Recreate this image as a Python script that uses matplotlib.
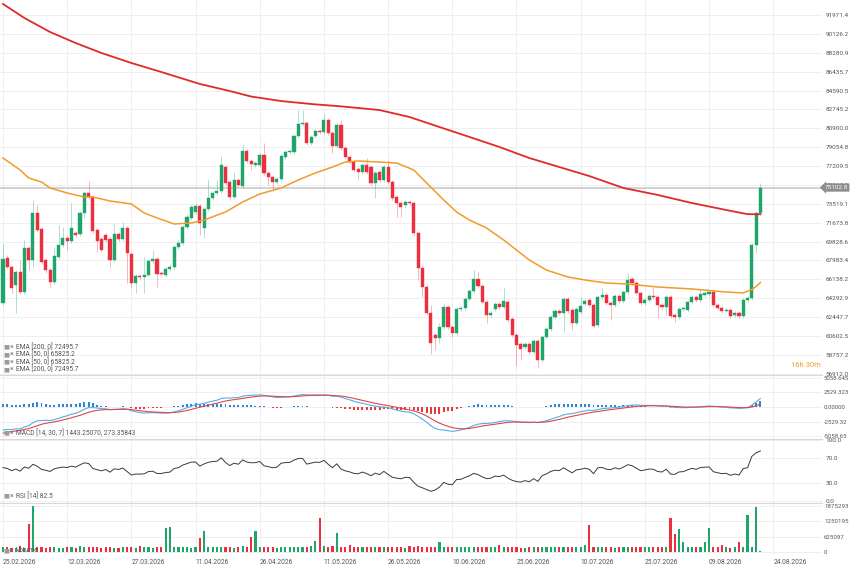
import numpy as np
import pandas as pd
import matplotlib
matplotlib.use('Agg')
import matplotlib.pyplot as plt

plt.rcParams['font.family'] = ['Roboto', 'DejaVu Sans']

start_date = '2026-02-25'

opens = [63820, 68220, 67340, 65580, 66850, 64890, 69190, 68020, 72620, 71050,
         68020, 67040, 65870, 68310, 69490, 70170, 69880, 70660, 70560, 72620,
         74570, 74180, 70950, 70070, 70470, 70070, 68020, 70560, 70070, 71150,
         68610, 65770, 66460, 66360, 66550, 67920, 68120, 66750, 66550, 67140,
         67340, 69290, 69680, 71250, 72130, 72710, 73300, 71150, 73010, 74080,
         74570, 74770, 77110, 75650, 74180, 75840, 75260, 78680, 77700, 77310,
         77310, 78290, 76530, 76140, 75650, 75940, 78090, 78580, 78580, 80140,
         81320, 81410, 79460, 80140, 80630, 80530, 81710, 80440, 79170, 81220,
         78970, 78090, 77600, 76920, 76620, 77310, 77110, 75550, 76620, 75840,
         77110, 75650, 74180, 73590, 73400, 73690, 73590, 70660, 67240, 65380,
         62840, 60690, 60400, 61470, 63430, 61470, 60880, 63230, 63330, 64210,
         64990, 66160, 65480, 63910, 62640, 63230, 63720, 63430, 63910, 62250,
         60690, 59810, 59520, 59810, 59030, 60100, 58240, 60490, 61280, 62450,
         63040, 62840, 64210, 63130, 61860, 62940, 63720, 64110, 63620, 61670,
         64400, 64600, 63820, 63620, 64500, 64010, 64890, 66160, 65770, 64800,
         63820, 64110, 64500, 64400, 63620, 63430, 64400, 62640, 62450, 63230,
         63130, 63910, 64400, 64110, 64600, 64700, 64890, 63620, 63330, 63040,
         63130, 62640, 62840, 62550, 64110, 64310, 69490, 72620]

highs = [69680, 68510, 67530, 67040, 68020, 69980, 69390, 73890, 73400, 71250,
         68220, 67240, 69290, 71440, 71250, 70370, 73590, 70860, 72810, 74770,
         75740, 74380, 71150, 70270, 70660, 70270, 71540, 70760, 71740, 71340,
         68800, 66650, 66650, 68310, 68120, 69000, 68310, 66950, 67340, 67630,
         69490, 69980, 71440, 72520, 73400, 73590, 73500, 73200, 75940, 74770,
         75840, 78190, 77310, 75840, 76620, 76040, 79360, 78870, 77900, 77700,
         78480, 79460, 76720, 76330, 76140, 78380, 78770, 78870, 80340, 82680,
         82680, 81610, 80240, 80830, 80830, 82290, 81900, 80630, 81410, 81710,
         79170, 78290, 77800, 77110, 77500, 77990, 77310, 76720, 76820, 77310,
         77800, 75840, 74380, 73790, 73890, 73890, 73790, 70860, 67430, 65580,
         63620, 60880, 61860, 63820, 63620, 61670, 63430, 63520, 64400, 65190,
         67040, 66850, 65680, 64110, 63040, 63910, 63910, 65280, 64110, 62450,
         60880, 60000, 60000, 60000, 60300, 60300, 60690, 61470, 62640, 63230,
         63230, 64400, 64400, 63330, 63430, 64400, 64210, 64310, 63820, 64600,
         65280, 64800, 64010, 64700, 64700, 65090, 66750, 66360, 65970, 64990,
         64310, 64700, 65380, 64600, 63820, 64600, 64600, 62840, 63430, 63520,
         64110, 64600, 64600, 65190, 64990, 65090, 65090, 63820, 63520, 63330,
         63330, 63040, 63040, 64310, 64500, 69680, 72810, 75550]

lows = [63620, 67140, 64800, 62840, 64700, 64700, 67040, 67240, 70760, 67630,
        66750, 65380, 65680, 68120, 69290, 69000, 69680, 70270, 70370, 72130,
        73980, 70660, 68800, 68800, 69780, 67240, 67830, 69880, 69880, 65770,
        65280, 64800, 66160, 64800, 66360, 67730, 65380, 66460, 66360, 66950,
        67140, 69100, 69490, 71050, 71930, 72520, 70470, 70270, 72810, 73890,
        74380, 74570, 75350, 73980, 73980, 75160, 75060, 77500, 76820, 77110,
        77110, 76330, 75350, 74770, 75450, 75740, 77900, 78380, 78380, 79950,
        81120, 79260, 79260, 79950, 80340, 80340, 80240, 78480, 78970, 78770,
        77900, 77410, 76620, 75840, 76430, 76430, 75350, 74080, 75650, 75650,
        75450, 73890, 72230, 72230, 73100, 73400, 70470, 66070, 64400, 62640,
        58830, 59220, 59910, 61280, 61280, 60490, 60690, 63040, 63130, 64010,
        64800, 65280, 63720, 61860, 62450, 63040, 63230, 63230, 61960, 60490,
        57660, 58240, 59320, 58830, 58830, 57460, 58050, 60300, 61080, 62250,
        62640, 60980, 62840, 61180, 61670, 62740, 63520, 63430, 61370, 61470,
        64210, 63620, 62160, 63430, 63820, 63820, 64700, 65580, 64600, 63620,
        63620, 63910, 64210, 62350, 63230, 62640, 62350, 61960, 62250, 63040,
        62940, 63720, 63910, 63910, 64400, 64500, 63430, 63130, 62840, 62940,
        62350, 62450, 62350, 62350, 63910, 64110, 68710, 72420]

closes = [68120, 67340, 65280, 66850, 64890, 69190, 68020, 72620, 70950, 67830,
          67040, 65870, 68410, 69490, 70170, 69880, 71150, 70470, 72620, 74570,
          74180, 70860, 69880, 69000, 69980, 68020, 70560, 70070, 71150, 68710,
          65770, 66460, 66360, 66550, 67920, 68120, 66650, 66650, 67140, 67340,
          69290, 69680, 71250, 72230, 73200, 73300, 71640, 73010, 74080, 74570,
          74770, 77310, 75550, 74180, 75840, 75350, 78680, 77700, 77410, 77500,
          78290, 76530, 76140, 75650, 75940, 78190, 78580, 78680, 80140, 81320,
          81410, 79460, 80050, 80630, 80530, 81710, 80440, 79170, 81220, 78970,
          78090, 77600, 76820, 76620, 77310, 76620, 75550, 76530, 75840, 77110,
          75650, 74080, 73590, 73200, 73690, 73590, 70660, 67240, 65380, 62840,
          59910, 60400, 61470, 63430, 61470, 60880, 63230, 63330, 64210, 64990,
          66160, 65480, 63910, 62640, 62840, 63720, 63430, 64010, 62160, 60690,
          59710, 59320, 59810, 59030, 60100, 58240, 60490, 61280, 62450, 63040,
          62840, 64210, 63040, 61860, 63230, 63520, 64010, 63620, 61570, 64400,
          64600, 63820, 63620, 64500, 64010, 64890, 66070, 65770, 64800, 63820,
          64110, 64500, 64400, 63620, 63430, 64400, 62550, 62450, 63230, 63330,
          63910, 64400, 64110, 64700, 64800, 64890, 63620, 63330, 63040, 63130,
          62550, 62840, 62550, 64110, 64310, 69490, 72620, 75102.8]

volumes = [200000, 210000, 180000, 170000, 250000, 180000, 1140000, 1860000, 190000, 200000,
           180000, 190000, 200000, 180000, 170000, 190000, 200000, 160000, 260000, 220000,
           200000, 210000, 190000, 180000, 200000, 190000, 180000, 170000, 200000, 190000,
           220000, 180000, 260000, 190000, 200000, 180000, 190000, 200000, 980000, 1030000,
           200000, 190000, 200000, 190000, 180000, 190000, 570000, 845000, 200000, 190000,
           200000, 210000, 190000, 200000, 180000, 190000, 230000, 200000, 625000, 860000,
           200000, 190000, 200000, 190000, 180000, 200000, 190000, 200000, 190000, 210000,
           200000, 190000, 240000, 450000, 1390000, 240000, 200000, 240000, 780000, 200000,
           190000, 300000, 200000, 210000, 200000, 190000, 200000, 210000, 200000, 190000,
           200000, 190000, 200000, 190000, 180000, 260000, 220000, 230000, 200000, 190000,
           200000, 190000, 420000, 200000, 190000, 200000, 200000, 190000, 200000, 210000,
           200000, 190000, 200000, 210000, 190000, 200000, 290000, 220000, 200000, 190000,
           200000, 180000, 160000, 190000, 200000, 210000, 200000, 190000, 200000, 210000,
           190000, 200000, 210000, 200000, 190000, 200000, 300000, 1100000, 220000, 210000,
           200000, 210000, 190000, 170000, 200000, 210000, 200000, 190000, 200000, 210000,
           200000, 190000, 200000, 210000, 190000, 200000, 1370000, 740000, 940000, 420000,
           210000, 200000, 210000, 200000, 420000, 980000, 200000, 190000, 280000, 200000,
           180000, 190000, 420000, 200000, 1510000, 200000, 1830000, 25000]

# EMA lines (candle index, price)
ema50_idx = [0, 4, 6, 9, 11, 15, 19, 21, 25, 30, 33, 36, 40, 44, 47, 52, 56, 60, 65, 69,
             73, 77, 80, 83, 88, 92, 96, 99, 103, 106, 109, 113, 117, 123, 127, 132, 136,
             141, 146, 153, 161, 169, 173, 175, 176, 177]
ema50_val = [77990, 76820, 76040, 75650, 75060, 74570, 74180, 74180, 73790, 73500, 72620,
             72130, 71540, 71640, 71930, 72710, 73690, 74470, 75060, 75840, 76530, 77110,
             77600, 77700, 77600, 77500, 76820, 75550, 73890, 72710, 71930, 71150, 69980,
             68020, 67040, 66360, 66070, 65770, 65670, 65380, 65190, 64890, 64800, 65140,
             65430, 65825.2]
ema200_idx = [0, 5, 11, 17, 23, 30, 37, 46, 53, 58, 65, 72, 79, 88, 95, 102, 109, 116,
              123, 130, 137, 145, 153, 161, 169, 174, 177]
ema200_val = [93050, 91680, 90310, 89230, 88260, 87280, 86400, 85230, 84540, 84000, 83560,
              83270, 83040, 82680, 82000, 81020, 80050, 79070, 77990, 77110, 76230, 75060,
              74380, 73590, 72910, 72500, 72495.7]

macd_fast_start = 69550.0
macd_slow_start = 73500.0
macd_signal_start = -4500.0
rsi_gain_start = 1000.0
rsi_loss_start = 1100.0

price_ticks = [56912.0, 58757.2, 60602.5, 62447.7, 64292.9, 66138.2, 67983.4, 69828.6,
               71673.8, 73519.1, 75364.3, 77209.5, 79054.8, 80900.0, 82745.2, 84590.5,
               86435.7, 88280.9, 90126.2, 91971.4]
macd_ticks = [5058.645, 2529.323, 0.0, -2529.32, -5058.65]
macd_tick_labels = ['5058.645', '2529.323', '0.00000', '-2529.32', '-5058.65']
rsi_ticks = [100.0, 70.0, 30.0, 0.0]
vol_ticks = [1875293, 1250195, 625097, 0]

legend_lines = ['EMA [200, 0] 72495.7', 'EMA [50, 0] 65825.2',
                'EMA [50, 0] 65825.2', 'EMA [200, 0] 72495.7']
macd_legend = 'MACD [14, 30, 7] 1443.25070, 273.35843'
rsi_legend = 'RSI [14] 82.5'
vol_legend = 'Volume'
countdown = '16h 30m'

# ------------------------------------------------------------------
o = np.array(opens, float)
h = np.array(highs, float)
l = np.array(lows, float)
c = np.array(closes, float)
v = np.array(volumes, float)
n = len(c)
x = np.arange(n)


def ema(vals, period, start):
    a = 2.0 / (period + 1)
    out = np.empty(len(vals))
    out[0] = start
    for i in range(1, len(vals)):
        out[i] = out[i - 1] + a * (vals[i] - out[i - 1])
    return out


fast = ema(c, 14, macd_fast_start)
slow = ema(c, 30, macd_slow_start)
macd = fast - slow
signal = ema(macd, 7, macd_signal_start)
hist = macd - signal

# Wilder RSI
chg = np.diff(np.concatenate([[o[0]], c]))
ag, al = rsi_gain_start, rsi_loss_start
rsi = np.empty(n)
for i in range(n):
    g = max(chg[i], 0)
    lo = max(-chg[i], 0)
    ag = (ag * 13 + g) / 14
    al = (al * 13 + lo) / 14
    rsi[i] = 100 - 100 / (1 + ag / al)

GREEN = '#1fa56a'
RED = '#ec2f3f'
up = c >= o
cols = np.where(up, GREEN, RED)

W, H = 853, 567
fig = plt.figure(figsize=(W / 100, H / 100), dpi=100)
RIGHT = 822


def add_axes(top, bottom):
    return fig.add_axes([0, 1 - bottom / H, RIGHT / W, (bottom - top) / H])


ax = add_axes(0, 375)
axm = add_axes(375, 439)
axr = add_axes(439, 503)
axv = add_axes(503, 555)

xt = list(range(0, 181, 15))
dates = pd.date_range(start_date, periods=181, freq='D')
xlabels = [dates[k].strftime('%d.%m.%Y') for k in xt]

for a in (ax, axm, axr, axv):
    a.set_xlim(-0.7, 191.4)
    a.set_xticks(xt)
    a.grid(True, color='#efefef', lw=0.7)
    a.set_axisbelow(True)
    a.yaxis.tick_right()
    a.tick_params(axis='both', length=0, labelsize=4.6, labelcolor='#555555', pad=2.5)
    for s in a.spines.values():
        s.set_visible(False)
    a.tick_params(axis='x', labelbottom=False)
for a in (axm, axr, axv):
    a.spines['top'].set_visible(True)
    a.spines['top'].set_color('#d8d8d8')
    a.spines['top'].set_linewidth(0.8)
axm.tick_params(axis='y', labelsize=4.3, pad=1.2)
axv.tick_params(axis='y', labelsize=4.4, pad=1.5)

# main price panel
ax.set_ylim(56778, 93438)
ax.set_yticks(price_ticks)
ax.set_yticklabels([f'{t:.1f}' for t in price_ticks])
ax.vlines(x, l, h, colors=cols, lw=0.7, alpha=0.35, zorder=2)
ax.bar(x, c - o, bottom=o, width=0.72, color=cols, edgecolor=cols, lw=0.3, zorder=3)
ax.axhline(c[-1], color='#cfcfcf', lw=1.3, zorder=1)
ax.plot(ema200_idx, ema200_val, color='#e02a2a', lw=1.3, zorder=4)
ax.plot(ema50_idx, ema50_val, color='#f39a2b', lw=1.1, zorder=4)
ax.text(1.003, c[-1], f'{c[-1]:.1f}', transform=ax.get_yaxis_transform(), va='center', ha='left',
        color='white', fontsize=4.6, zorder=6,
        bbox=dict(boxstyle='larrow,pad=0.25', fc='#8c8c8c', ec='none'))
ax.text(0.999, 0.027, countdown, transform=ax.transAxes, ha='right', va='center',
        color='#f39a2b', fontsize=5.5)

# MACD panel
axm.set_ylim(-5490, 5490)
axm.set_yticks(macd_ticks)
axm.set_yticklabels(macd_tick_labels)
axm.bar(x, hist, width=0.45, color=np.where(hist >= 0, '#2a86d8', '#e43a3a'), zorder=2)
axm.plot(x, macd, color='#55aee8', lw=0.8, zorder=3)
axm.plot(x, signal, color='#e04646', lw=0.8, zorder=3)

# RSI panel
axr.set_ylim(-3.3, 101.6)
axr.set_yticks(rsi_ticks)
axr.set_yticklabels([f'{t:.1f}' for t in rsi_ticks])
axr.plot(x, rsi, color='#3a3a3a', lw=0.7)

# Volume panel
axv.set_ylim(-122000, 1997600)
axv.set_yticks(vol_ticks)
axv.set_yticklabels([str(t) for t in vol_ticks])
axv.bar(x, v, width=0.5, color=cols, zorder=2)
axv.tick_params(axis='x', labelbottom=True, pad=3, labelsize=4.8)
axv.set_xticklabels(xlabels, ha='left')

# legends


def legend_text(py, s):
    fig.text(3 / W, 1 - py / H, '\u25a0', fontsize=4.5, color='#9a9a9a', va='center', ha='left')
    fig.text(10 / W, 1 - py / H, '\u00d7', fontsize=5, color='#777777', va='center', ha='left')
    fig.text(16 / W, 1 - py / H, s, fontsize=4.8, color='#555555', va='center', ha='left')


for k, s in enumerate(legend_lines):
    legend_text(347 + 7.5 * k, s)
legend_text(433, macd_legend)
legend_text(496, rsi_legend)
legend_text(551, vol_legend)

fig.savefig('out.png', dpi=100)
